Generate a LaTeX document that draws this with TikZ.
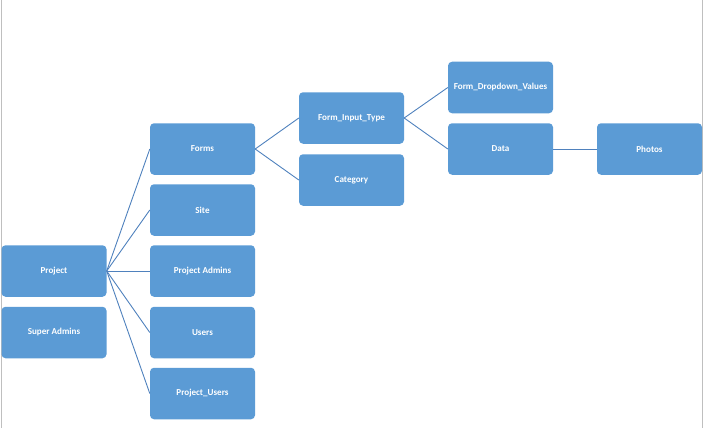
\documentclass[tikz,border=0pt]{standalone}
\usepackage{fontspec}
\setmainfont{Carlito}
\definecolor{boxfill}{HTML}{5B9BD5}
\definecolor{linkcol}{HTML}{4F81BD}
\definecolor{edgegray}{HTML}{BFBFBF}
\begin{document}
\begin{tikzpicture}[x=1pt,y=-1pt,
  entity/.style={fill=boxfill, draw=none, rounded corners=4pt,
    minimum width=105pt, minimum height=51.5pt, inner sep=0pt,
    text=white, font=\fontsize{9.1}{10}\selectfont\bfseries},
  link/.style={draw=linkcol, line width=0.9pt}]
  \useasboundingbox (0,0) rectangle (704,428);
  % page edges
  \draw[edgegray, line width=0.8pt] (1,0) -- (1,428);
  \draw[edgegray, line width=0.8pt] (702.5,0) -- (702.5,428);
  % column 1
  \node[entity] (project) at (54,271) {Project};
  \node[entity] (superadmins) at (54,332.5) {Super Admins};
  % column 2
  \node[entity] (forms) at (202.5,149) {Forms};
  \node[entity] (site) at (202.5,210) {Site};
  \node[entity] (padmins) at (202.5,271) {Project Admins};
  \node[entity] (users) at (202.5,332.5) {Users};
  \node[entity] (pusers) at (202.5,393.5) {Project\_Users};
  % column 3
  \node[entity] (fit) at (351.5,118) {Form\_Input\_Type};
  \node[entity] (category) at (351.5,180) {Category};
  % column 4
  \node[entity] (fdv) at (500.5,87.5) {Form\_Dropdown\_Values};
  \node[entity] (data) at (500.5,149) {Data};
  % column 5
  \node[entity] (photos) at (649.5,149) {Photos};
  % connectors
  \foreach \t in {forms,site,padmins,users,pusers}
    \draw[link] (project.east) -- (\t.west);
  \draw[link] (forms.east) -- (fit.west);
  \draw[link] (forms.east) -- (category.west);
  \draw[link] (fit.east) -- (fdv.west);
  \draw[link] (fit.east) -- (data.west);
  \draw[link] (data.east) -- (photos.west);
\end{tikzpicture}
\end{document}
